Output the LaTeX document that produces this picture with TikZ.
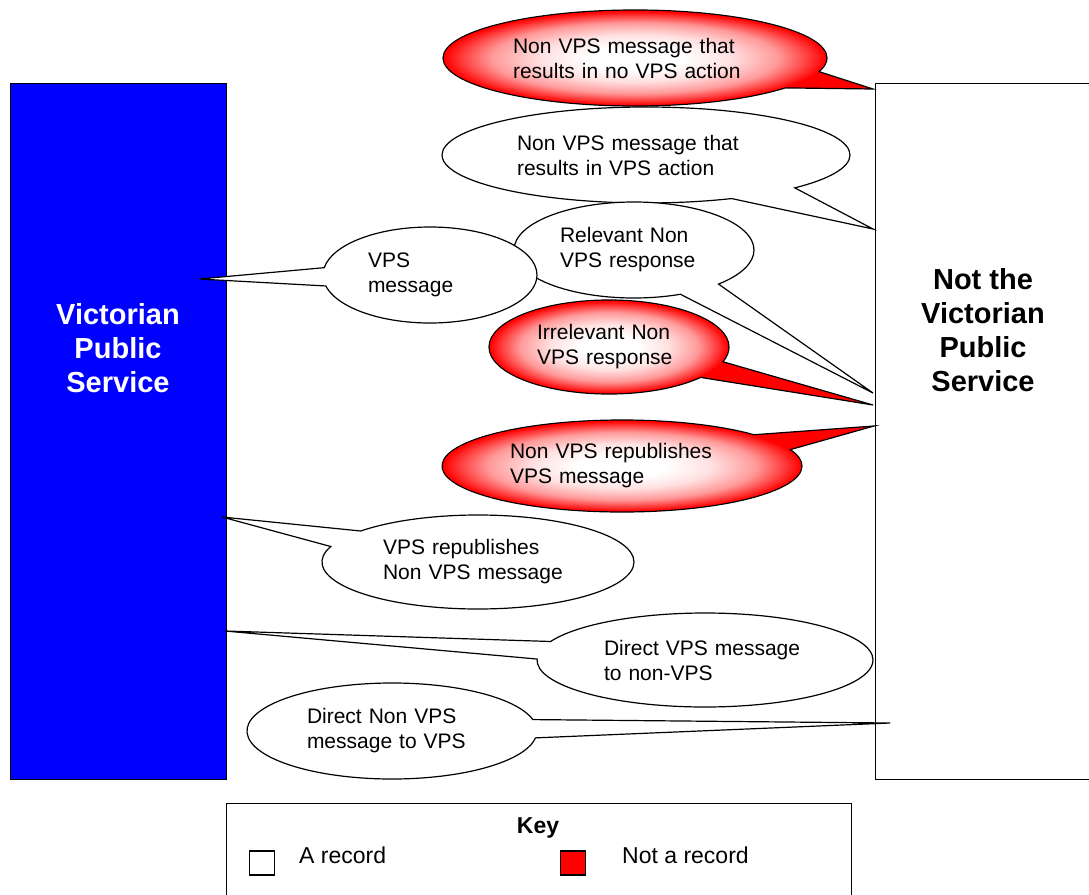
\documentclass[tikz,border=0pt]{standalone}
\usepackage{fontspec}
\setmainfont{Liberation Sans}
\definecolor{vpsblue}{RGB}{0,0,255}
\definecolor{vpsred}{RGB}{255,0,0}
\usetikzlibrary{shapes.callouts,shapes.geometric}

% white in the middle of the ellipse, red at its rim
\pgfdeclareradialshading{redcentre}{\pgfpoint{0bp}{0bp}}{color(0bp)=(white);
  color(6.25bp)=(white); color(12.5bp)=(vpsred!12!white);
  color(18.75bp)=(vpsred!40!white); color(22.5bp)=(vpsred!75!white);
  color(25bp)=(vpsred); color(50bp)=(vpsred)}

\begin{document}
\begin{tikzpicture}[x=1pt,y=-1pt,
    bubble/.style={ellipse callout,draw,line width=1.2pt,fill=white,inner sep=0pt,
      align=left,font=\fontsize{21}{25}\selectfont,callout pointer arc=22},
    norecord/.style={bubble,fill=vpsred},
    msgtext/.style={inner sep=0pt,align=left,font=\fontsize{21}{25}\selectfont},
    side/.style={draw,line width=1pt,minimum width=216pt,minimum height=696pt},
    sidetext/.style={align=center,font=\bfseries\fontsize{29}{34}\selectfont},
    keytext/.style={anchor=west,inner sep=0pt,font=\fontsize{23}{27}\selectfont},
    keysquare/.style={draw,line width=1.2pt,minimum width=25pt,minimum height=24pt}
    ]
    \useasboundingbox (0,0) rectangle (1089,894);

    % the two sides
    \node[side,fill=vpsblue] (vps) at (118,431) {};
    \node[side,fill=white] (nvps) at (983,431) {};
    \node[sidetext,text=white] (vpstext) at (118,348) {Victorian\\Public\\Service};
    \node[sidetext] (nvpstext) at (983,330) {Not the\\Victorian\\Public\\Service};

    % where the messages point
    \coordinate (p1) at (873,89);
    \coordinate (p2) at (873,229);
    \coordinate (p3) at (873,393);
    \coordinate (p4) at (199,279);
    \coordinate (p5) at (873,405);
    \coordinate (p6) at (874,426);
    \coordinate (p7) at (222,517);
    \coordinate (p8) at (225,631);
    \coordinate (p9) at (890,723);

    % the messages
    \node[norecord,minimum width=384pt,minimum height=96pt,
      callout absolute pointer={(p1)}] (noaction) at (635,58) {};
    \shade[shading=redcentre,shift={(noaction.center)},xscale=191/47] (0,0) circle [radius=47];
    \node[msgtext,text width=244pt] (noactiontext) at (noaction.center)
      {Non VPS message that\\results in no VPS action};
    \node[bubble,minimum width=408pt,minimum height=96pt,text width=258pt,
      callout absolute pointer={(p2)}] (action) at (646,155)
      {Non VPS message that\\results in VPS action};
    \node[bubble,minimum width=240pt,minimum height=96pt,text width=148pt,
      callout absolute pointer={(p3)}] (relevant) at (634,250)
      {Relevant Non\\VPS response};
    \node[bubble,minimum width=214pt,minimum height=96pt,text width=124pt,
      callout absolute pointer={(p4)}] (vpsmsg) at (430,275)
      {VPS\\message};
    \node[norecord,minimum width=240pt,minimum height=94pt,
      callout absolute pointer={(p5)}] (irrelevant) at (609,347) {};
    \shade[shading=redcentre,shift={(irrelevant.center)},xscale=119/46] (0,0) circle [radius=46];
    \node[msgtext,text width=144pt] (irrelevanttext) at (irrelevant.center)
      {Irrelevant Non\\VPS response};
    \node[norecord,minimum width=360pt,minimum height=92pt,
      callout absolute pointer={(p6)}] (nvpsrepub) at (622,466) {};
    \shade[shading=redcentre,shift={(nvpsrepub.center)},xscale=179/45] (0,0) circle [radius=45];
    \node[msgtext,text width=224pt] (nvpsrepubtext) at (nvpsrepub.center)
      {Non VPS republishes\\VPS message};
    \node[bubble,minimum width=312pt,minimum height=94pt,text width=190pt,
      callout absolute pointer={(p7)}] (vpsrepub) at (478,562)
      {VPS republishes\\Non VPS message};
    \node[bubble,minimum width=336pt,minimum height=94pt,text width=202pt,
      callout absolute pointer={(p8)}] (directvps) at (705,660)
      {Direct VPS message\\to non-VPS};
    \node[bubble,minimum width=290pt,minimum height=96pt,text width=170pt,
      callout absolute pointer={(p9)}] (directnvps) at (392,731)
      {Direct Non VPS\\message to VPS};

    % the key
    \node[draw,line width=1.2pt,minimum width=625pt,minimum height=120pt,
      anchor=north west] (key) at (226,803) {};
    \node[font=\bfseries\fontsize{23}{27}\selectfont] (keytitle) at (538,828) {Key};
    \node[keysquare,fill=white] (recsq) at (262,863) {};
    \node[keytext] (rec) at (299,855) {A record};
    \node[keysquare,fill=vpsred] (nrecsq) at (573,863) {};
    \node[keytext] (nrec) at (622,855) {Not a record};
\end{tikzpicture}
\end{document}
